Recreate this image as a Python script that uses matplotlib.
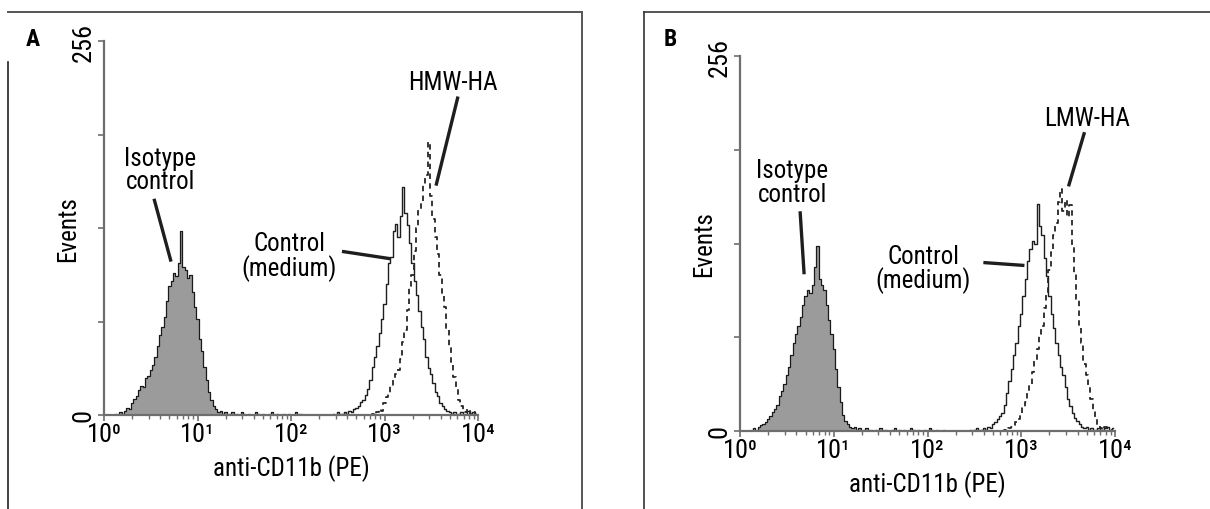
import numpy as np
import matplotlib
matplotlib.use("Agg")
import matplotlib.pyplot as plt
from matplotlib.lines import Line2D
from matplotlib.ticker import FixedLocator, LogLocator, NullFormatter

FONT = ['Roboto Condensed', 'Liberation Sans Narrow', 'Roboto', 'DejaVu Sans']
plt.rcParams['font.family'] = FONT
plt.rcParams['font.stretch'] = 'condensed'

# channel step in log10 units (40 channels per decade)
STEP = 0.025

# panel A: isotype, control medium, HMW-HA  (start log10 value, counts)
iso_a_start = 0.10
iso_a = [0, 1, 0, 2, 1, 3, 5, 4, 8, 11, 13, 17, 20, 19, 25, 27, 31, 34, 40, 47,
         55, 60, 67, 78, 88, 92, 97, 95, 104, 126, 101, 99, 94, 96, 84, 74, 66, 52, 44, 33,
         24, 16, 10, 6, 4, 2, 3, 1, 2, 0, 1, 2, 0, 1, 0, 2, 1, 0, 1, 0,
         0, 2, 1, 0, 1, 0, 0, 1, 2, 0, 1, 0, 0, 1, 0, 1, 0, 0, 2, 0,
         1, 0]
ctl_a_start = 2.45
ctl_a = [1, 0, 2, 0, 1, 2, 1, 3, 2, 4, 5, 6, 9, 10, 14, 18, 24, 33, 40, 47,
         56, 66, 76, 90, 104, 108, 126, 131, 122, 136, 156, 138, 130, 118, 104, 92, 82, 71, 60, 52,
         40, 32, 28, 22, 16, 13, 8, 6, 4, 3, 2, 1, 2, 0, 1, 2, 0, 1, 3, 1,
         2, 1]
hmw_start = 2.85
hmw = [0, 1, 0, 2, 4, 3, 8, 12, 15, 20, 24, 28, 31, 38, 50, 58, 72, 88, 96, 112,
       128, 140, 146, 158, 164, 187, 150, 134, 122, 110, 96, 82, 74, 58, 46, 36, 26, 18, 10, 6,
       3, 2, 4, 1, 2, 1]

# panel B: isotype, control medium, LMW-HA
iso_b_start = 0.10
iso_b = [0, 1, 2, 1, 3, 4, 5, 6, 8, 10, 13, 15, 18, 24, 27, 32, 38, 44, 52, 60,
         66, 72, 78, 86, 92, 96, 94, 100, 112, 126, 104, 100, 96, 86, 76, 66, 56, 42, 30, 20,
         11, 7, 5, 3, 2, 3, 1, 2, 0, 1, 2, 0, 1, 0, 1, 0, 2, 0, 1, 0,
         0, 1, 2, 0, 1, 0, 1, 0, 0, 2, 1, 0, 1, 0, 0, 1, 0, 2, 1, 0,
         1, 0, 0, 1]
ctl_b_start = 2.45
ctl_b = [1, 0, 1, 2, 0, 1, 2, 1, 3, 2, 5, 6, 8, 10, 12, 18, 26, 34, 42, 52,
         60, 72, 80, 92, 104, 116, 124, 130, 128, 155, 140, 134, 118, 106, 92, 80, 70, 60, 52, 44,
         38, 30, 22, 17, 12, 9, 7, 5, 3, 2, 3, 1, 2, 0, 1, 2, 0, 1, 2, 3,
         1, 2]
lmw_start = 2.80
lmw = [0, 1, 0, 2, 3, 4, 6, 8, 11, 16, 20, 26, 32, 40, 48, 56, 66, 72, 84, 94,
       110, 122, 134, 142, 156, 165, 150, 158, 146, 154, 126, 108, 90, 72, 60, 46, 38, 30, 22, 14,
       8, 4, 2, 1, 3, 1, 0, 2]

y_ticks = [0, 64, 128, 192, 256]
y_ticklabels = ['0', '', '', '', '256']
x_ticks = [1, 10, 100, 1000, 10000]
x_ticklabels = ['10\u2070', '10\u00b9', '10\u00b2', '10\u00b3', '10\u2074']

FIG_W, FIG_H = 1210, 510
fig = plt.figure(figsize=(12.1, 5.1), dpi=100)
fig.patch.set_facecolor('white')

GRAY_AX = '#6e6e6e'
FS = 18


def xs(start, vals):
    return 10 ** (start + STEP * np.arange(len(vals)))


def px_line(x0, y0, x1, y1, color='#555555', lw=1.4):
    fig.add_artist(Line2D([x0 / FIG_W, x1 / FIG_W], [1 - y0 / FIG_H, 1 - y1 / FIG_H],
                          transform=fig.transFigure, color=color, lw=lw))


def make_panel(rect, iso, ctl, treat, labels):
    ax = fig.add_axes(rect)
    ax.set_xscale('log')
    x_iso = xs(*iso)
    ax.fill_between(x_iso, iso[1], step='mid', color='#9b9b9b', lw=0, zorder=2)
    ax.step(x_iso, iso[1], where='mid', color='#1a1a1a', lw=0.9, zorder=3)
    ax.step(xs(*ctl), ctl[1], where='mid', color='#1e1e1e', lw=1.0, zorder=3)
    ax.step(xs(*treat), treat[1], where='mid', color='#262626', lw=1.3,
            linestyle=(0, (3, 2.4)), zorder=3)

    ax.set_xlim(1, 1e4)
    ax.set_ylim(0, 256)
    for s in ['top', 'right']:
        ax.spines[s].set_visible(False)
    for s in ['left', 'bottom']:
        ax.spines[s].set_color(GRAY_AX)
        ax.spines[s].set_linewidth(1.6)
        ax.spines[s].set_zorder(4)

    ax.xaxis.set_major_locator(FixedLocator(x_ticks))
    ax.set_xticklabels(x_ticklabels, fontsize=FS + 1)
    ax.xaxis.set_minor_locator(LogLocator(base=10, subs=np.arange(2, 10)))
    ax.xaxis.set_minor_formatter(NullFormatter())
    ax.set_yticks(y_ticks)
    ax.set_yticklabels(y_ticklabels, fontsize=FS + 1, rotation=90, va='center')
    ax.tick_params(axis='both', which='major', direction='out', length=4, width=1.2,
                   color=GRAY_AX, pad=2)
    ax.tick_params(axis='x', which='minor', direction='out', length=3, width=1.0,
                   color=GRAY_AX)
    ax.tick_params(axis='x', which='major', pad=1)

    ax.set_xlabel('anti-CD11b (PE)', fontsize=FS, labelpad=6)
    ax.set_ylabel('Events', fontsize=FS, labelpad=-6)

    for text, tx, ty, lx0, ly0, lx1, ly1 in labels:
        ax.text(10 ** tx, ty, text, fontsize=FS, ha='center', va='center',
                linespacing=0.95, zorder=5)
        ax.plot([10 ** lx0, 10 ** lx1], [ly0, ly1], color='#1e1e1e', lw=2.4,
                solid_capstyle='butt', zorder=5)
    return ax


labels_a = [
    ('Isotype\ncontrol', 0.60, 168, 0.535, 148, 0.717, 105),
    ('Control\n(medium)', 1.98, 109, 2.545, 112, 3.06, 107),
    ('HMW-HA', 3.73, 228, 3.786, 218, 3.551, 157),
]
labels_b = [
    ('Isotype\ncontrol', 0.556, 170, 0.641, 150, 0.684, 107),
    ('Control\n(medium)', 1.955, 111, 2.596, 115, 3.034, 113),
    ('LMW-HA', 3.697, 214, 3.675, 204, 3.504, 167),
]

ax_a = make_panel([104 / FIG_W, 94 / FIG_H, 374 / FIG_W, 374 / FIG_H],
                  (iso_a_start, iso_a), (ctl_a_start, ctl_a), (hmw_start, hmw), labels_a)
ax_b = make_panel([740 / FIG_W, 78 / FIG_H, 375 / FIG_W, 375 / FIG_H],
                  (iso_b_start, iso_b), (ctl_b_start, ctl_b), (lmw_start, lmw), labels_b)

# panel frames
px_line(8, 13, 582, 13)
px_line(582, 13, 582, 510)
px_line(8, 63, 8, 510, color='#222222', lw=1.2)
px_line(644, 13, 1210, 13)
px_line(644, 13, 644, 510, color='#333333', lw=1.2)

fig.text(33 / FIG_W, 1 - 40 / FIG_H, 'A', fontsize=17, fontweight='bold',
         ha='center', va='center')
fig.text(670 / FIG_W, 1 - 40 / FIG_H, 'B', fontsize=17, fontweight='bold',
         ha='center', va='center')

fig.savefig('out.png', dpi=100, facecolor='white')
